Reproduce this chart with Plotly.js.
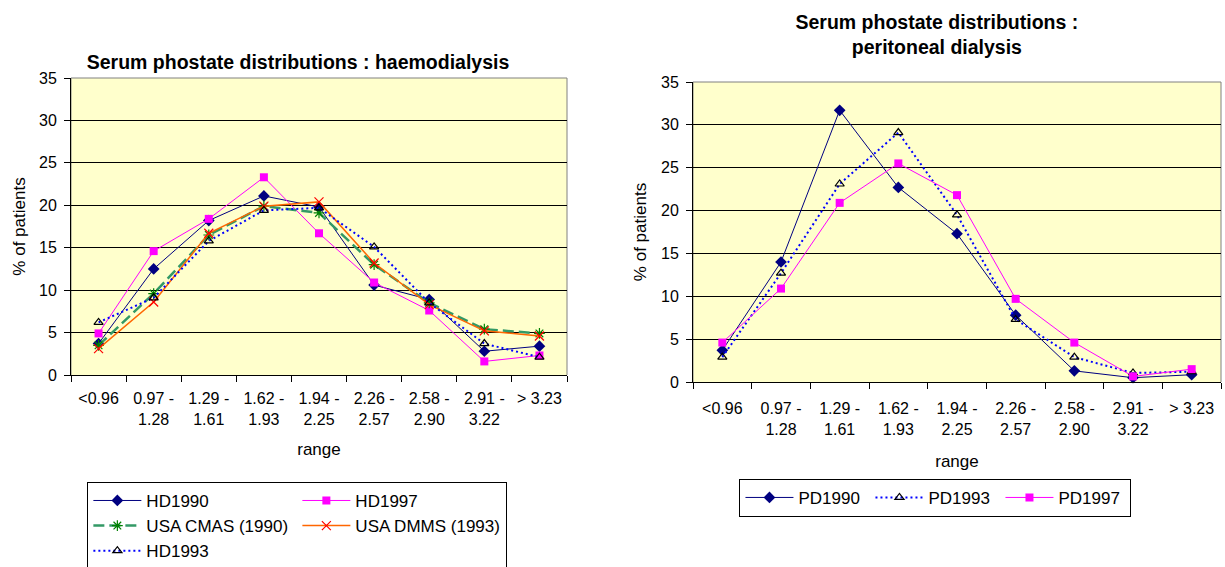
<!DOCTYPE html>
<html><head><meta charset="utf-8">
<script src="https://cdn.plot.ly/plotly-3.0.1.min.js"></script>
<style>
body{margin:0;background:#fff;overflow:hidden;}
#hd{position:absolute;left:0;top:0;width:612px;height:567px;}
#pd{position:absolute;left:612px;top:0;width:613px;height:567px;}
</style>
</head><body>
<div id="hd"></div><div id="pd"></div>
<script>
// ---- data ----
const categories = ["<0.96", "0.97 -<br>1.28", "1.29 -<br>1.61", "1.62 -<br>1.93", "1.94 -<br>2.25",
                    "2.26 -<br>2.57", "2.58 -<br>2.90", "2.91 -<br>3.22", "> 3.23"];
const yTicks = [0, 5, 10, 15, 20, 25, 30, 35];

const hd1990      = [3.7, 12.5, 18.2, 21.1, 19.8, 10.6, 8.9, 2.8, 3.4];
const hd1997      = [4.9, 14.6, 18.4, 23.3, 16.7, 10.9, 7.6, 1.6, 2.3];
const usaCmas1990 = [3.5, 9.6, 16.5, 19.9, 19.1, 13.0, 8.5, 5.4, 4.9];
const usaDmms1993 = [3.1, 8.6, 16.7, 19.9, 20.4, 13.2, 8.3, 5.2, 4.6];
const hd1993      = [6.2, 9.1, 15.8, 19.4, 19.7, 15.1, 8.5, 3.7, 2.1];

const pd1990 = [3.7, 14.0, 31.7, 22.7, 17.3, 7.8, 1.3, 0.5, 0.85];
const pd1993 = [2.9, 12.7, 23.1, 29.1, 19.5, 7.3, 2.9, 1.05, 1.2];
const pd1997 = [4.6, 10.9, 20.9, 25.5, 21.8, 9.7, 4.6, 0.65, 1.5];

// ---- styling ----
const FONT = "Arial, 'Liberation Sans', Helvetica, sans-serif";
function tr(name, y, color, dash, width, symbol, msize, mcolor, open) {
  const m = {symbol: symbol, size: msize, color: mcolor};
  if (open) m.line = {color: mcolor, width: 1.2};
  else m.line = {width: 0};
  return {x: categories, y: y, name: name, type: 'scatter', mode: 'lines+markers',
          line: {color: color, width: width, dash: dash}, marker: m, cliponaxis: false};
}
function xax(labelOff, titleOff) {
  return {type: 'category', range: [-0.5, 8.5], tickson: 'boundaries', ticks: 'outside',
          ticklen: 6, tickcolor: '#000', showline: true, linecolor: '#000', linewidth: 1,
          showgrid: false, zeroline: false, tickfont: {size: 16, color: '#000'},
          ticklabelstandoff: labelOff,
          title: {text: 'range', font: {size: 17, color: '#000'}, standoff: titleOff}, fixedrange: true};
}
function yax(standoff) {
  return {range: [0, 35], tickvals: yTicks, ticks: 'outside', ticklen: 6, tickcolor: '#000',
          showline: true, linecolor: '#000', linewidth: 1, showgrid: true, gridcolor: '#000',
          gridwidth: 1, zeroline: false, tickfont: {size: 16, color: '#000'},
          ticklabelstandoff: 4,
          title: {text: '% of patients', font: {size: 17, color: '#000'}, standoff: standoff},
          fixedrange: true};
}
const border = {type: 'path', xref: 'paper', yref: 'paper', path: 'M0,0 L0,1 L1,1 L1,0',
                line: {color: '#808080', width: 1}, layer: 'below'};
const config = {staticPlot: true, displayModeBar: false};

// ---- haemodialysis ----
const hdTraces = [
  tr('HD1990', hd1990, '#000080', 'solid', 1, 'diamond', 9, '#000080', false),
  tr('HD1997', hd1997, '#FF00FF', 'solid', 1, 'square', 8, '#FF00FF', false),
  tr('USA CMAS (1990)', usaCmas1990, '#339966', '11px,5px', 2.5, 'asterisk-open', 9, '#008000', true),
  tr('USA DMMS (1993)', usaDmms1993, '#FF6600', 'solid', 1.5, 'x-thin-open', 9, '#FF0000', true),
  tr('HD1993', hd1993, '#0000FF', '2px,3px', 2, 'triangle-up-open', 8, '#000000', true)
];
const hdLayout = {
  width: 612, height: 567, paper_bgcolor: '#fff', plot_bgcolor: '#FFFFCC',
  font: {family: FONT, color: '#000'},
  margin: {l: 71, r: 45, t: 78, b: 192, autoexpand: false},
  title: {text: 'Serum phostate distributions : haemodialysis', xref: 'container', yref: 'container',
          x: 0.487, y: 0.891, xanchor: 'center', yanchor: 'middle',
          font: {size: 19.5, family: FONT, weight: 'bold', color: '#000'}},
  xaxis: xax(9, 16), yaxis: yax(9),
  showlegend: true,
  legend: {orientation: 'h', x: 0.033, y: -0.36, xanchor: 'left', yanchor: 'top',
           bgcolor: '#fff', bordercolor: '#000', borderwidth: 1, itemwidth: 48,
           entrywidth: 146, entrywidthmode: 'pixels', traceorder: 'normal',
           font: {size: 17, color: '#000'}},
  shapes: [border]
};
Plotly.newPlot('hd', hdTraces, hdLayout, config);

// ---- peritoneal dialysis ----
const pdTraces = [
  tr('PD1990', pd1990, '#000080', 'solid', 1, 'diamond', 9, '#000080', false),
  tr('PD1993', pd1993, '#0000FF', '2px,3px', 2, 'triangle-up-open', 8, '#000000', true),
  tr('PD1997', pd1997, '#FF00FF', 'solid', 1, 'square', 8, '#FF00FF', false)
];
const pdLayout = {
  width: 613, height: 567, paper_bgcolor: '#fff', plot_bgcolor: '#FFFFCC',
  font: {family: FONT, color: '#000'},
  margin: {l: 81, r: 4, t: 82, b: 185, autoexpand: false},
  title: {text: 'Serum phostate distributions :<br>peritoneal dialysis', xref: 'container', yref: 'container',
          x: 0.530, y: 0.949, xanchor: 'center', yanchor: 'middle',
          font: {size: 19.5, family: FONT, weight: 'bold', color: '#000'}},
  xaxis: xax(12, 18), yaxis: yax(10),
  showlegend: true,
  legend: {orientation: 'h', x: 0.088, y: -0.323, xanchor: 'left', yanchor: 'top',
           bgcolor: '#fff', bordercolor: '#000', borderwidth: 1, itemwidth: 48,
           entrywidth: 67, entrywidthmode: 'pixels', traceorder: 'normal',
           font: {size: 17, color: '#000'}},
  shapes: [border]
};
Plotly.newPlot('pd', pdTraces, pdLayout, config);
</script>
</body></html>
